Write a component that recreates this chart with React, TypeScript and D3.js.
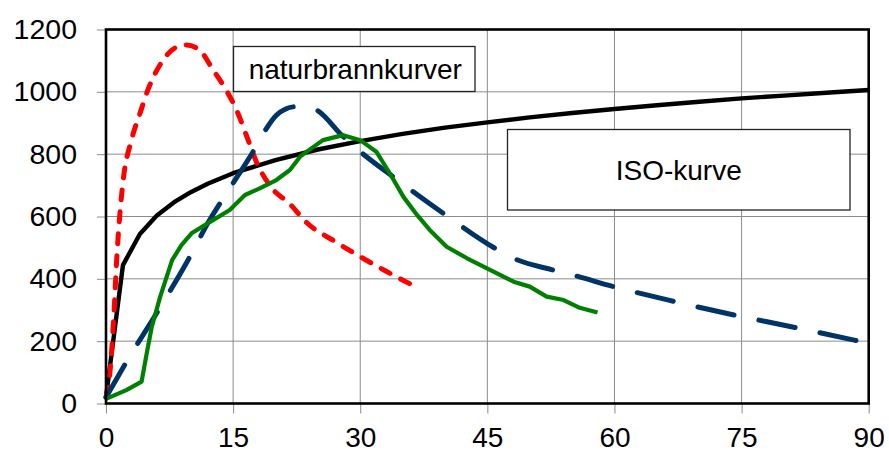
import { useEffect, useRef } from 'react';
import * as d3 from 'd3';

const width = 889;
const height = 453;
// plot frame in px
const [left, right, top, bottom] = [106, 868.7, 29.5, 403.5];

const xTicks = [0, 15, 30, 45, 60, 75, 90];
const yTicks = [0, 200, 400, 600, 800, 1000, 1200];

// ISO-kurve (minutes, degC)
const isoTime = [0, 2, 4, 6, 8, 10, 12, 15, 20, 25, 30, 35, 40, 45, 50, 55, 60, 65, 70, 75, 80, 85, 90];
const isoTemp = [20, 444, 544, 603, 645, 678, 705, 739, 781, 815, 842, 865, 885, 902, 918, 932, 945, 957, 968, 979, 988, 997, 1006];

// naturbrannkurver
const redTime = [0, 0.5, 0.9, 1.3, 1.5, 2, 3, 4, 5, 6.7, 8.3, 9.5, 11, 12.6, 14.2, 15.4, 16.6, 17.8, 19.4, 21.7, 23.7, 27, 30, 33, 36];
const redTemp = [20, 110, 270, 480, 560, 710, 845, 930, 1010, 1100, 1143, 1150, 1135, 1072, 1005, 942, 858, 772, 697, 640, 580, 520, 471, 425, 382];

const navyTime = [0, 3, 6.2, 9.9, 12, 14.9, 17.6, 18.8, 20.1, 21.2, 22.3, 24.5, 28, 30, 33.9, 39.8, 45.9, 48.1, 52.8, 55.1, 59.9, 67.1, 74.1, 81.3, 88.5];
const navyTemp = [20, 160, 300, 471, 578, 703, 819, 877, 925, 945, 952, 945, 856, 808, 727, 610, 498, 466, 428, 412, 375, 327, 284, 244, 202];

const greenTime = [0, 2.4, 4.2, 4.8, 5.4, 6.4, 7.8, 8.9, 10.1, 12, 14.6, 16.4, 18.2, 20.1, 21.7, 22.9, 23.7, 25.6, 28, 30, 31.9, 33.5, 35.1, 36.7, 38.2, 40.2, 42.6, 44.9, 48.1, 50, 52, 54, 55.9, 58];
const greenTemp = [15, 43, 70, 160, 246, 343, 460, 508, 546, 578, 621, 669, 691, 717, 749, 792, 808, 845, 861, 845, 808, 738, 663, 605, 557, 503, 466, 434, 391, 375, 343, 332, 307, 292];

const font = "'Liberation Sans', Arial, sans-serif";

export default function App() {
    const ref = useRef<SVGSVGElement>(null);

    useEffect(() => {
        document.body.style.margin = '0';
        const svg = d3.select(ref.current);
        svg.selectAll('*').remove();

        const x = d3.scaleLinear().domain([0, 90]).range([left, right]);
        const y = d3.scaleLinear().domain([0, 1200]).range([bottom, top]);

        // grid
        const grid = svg.append('g').attr('stroke', '#8c8c8c').attr('stroke-width', 1);
        grid.selectAll('line.v')
            .data(xTicks.slice(1, -1))
            .join('line')
            .attr('x1', (d) => x(d)).attr('x2', (d) => x(d))
            .attr('y1', top).attr('y2', bottom);
        grid.selectAll('line.h')
            .data(yTicks.slice(1, -1))
            .join('line')
            .attr('x1', left).attr('x2', right)
            .attr('y1', (d) => y(d)).attr('y2', (d) => y(d));

        // axes
        const xAxis = d3.axisBottom(x).tickValues(xTicks).tickSize(10).tickPadding(14).tickFormat(d3.format('d'));
        svg.append('g')
            .attr('transform', `translate(0,${bottom})`)
            .call(xAxis)
            .call((g) => g.select('.domain').remove())
            .call((g) => g.selectAll('.tick line').attr('stroke', '#8c8c8c'))
            .call((g) => g.selectAll('.tick text').attr('font-size', 28).attr('font-family', font).attr('fill', '#000'));

        const yAxis = d3.axisLeft(y).tickValues(yTicks).tickSize(9).tickPadding(20).tickFormat(d3.format('d'));
        svg.append('g')
            .attr('transform', `translate(${left},0)`)
            .call(yAxis)
            .call((g) => g.select('.domain').remove())
            .call((g) => g.selectAll('.tick line').attr('stroke', '#8c8c8c'))
            .call((g) => g.selectAll('.tick text').attr('font-size', 28.5).attr('font-family', font).attr('fill', '#000'));

        const line = d3
            .line<[number, number]>()
            .x((d) => x(d[0]))
            .y((d) => y(d[1]));

        const zip = (a: number[], b: number[]) => a.map((t, i) => [t, b[i]] as [number, number]);

        const plot = svg.append('g').attr('fill', 'none').attr('stroke-linejoin', 'round');

        plot.append('path')
            .attr('d', line(zip(isoTime, isoTemp)))
            .attr('stroke', '#000')
            .attr('stroke-width', 4.4);

        plot.append('path')
            .attr('d', line.curve(d3.curveMonotoneX)(zip(redTime, redTemp)))
            .attr('stroke', '#ff0000')
            .attr('stroke-width', 5)
            .attr('stroke-linecap', 'round')
            .attr('stroke-dasharray', '10 12');

        const navy = plot.append('path')
            .attr('d', line.curve(d3.curveMonotoneX)(zip(navyTime, navyTemp)))
            .attr('stroke', '#003366')
            .attr('stroke-width', 5)
            .attr('stroke-linecap', 'round');
        // stretch the long-dash period a little so the line ends on a dash
        const len = (navy.node() as SVGPathElement).getTotalLength();
        const n = Math.round((len - 37) / 61);
        const p = (len - 37) / n;
        navy.attr('stroke-dasharray', `${37} ${p - 37}`);

        plot.append('path')
            .attr('d', line.curve(d3.curveLinear)(zip(greenTime, greenTemp)))
            .attr('stroke', '#008000')
            .attr('stroke-width', 4.2);

        // frame
        svg.append('rect')
            .attr('x', left).attr('y', top)
            .attr('width', right - left).attr('height', bottom - top)
            .attr('fill', 'none').attr('stroke', '#000').attr('stroke-width', 2.6);

        // label boxes
        const boxes = [
            { label: 'naturbrannkurver', x0: 233.5, y0: 46.5, w: 241.5, h: 45 },
            { label: 'ISO-kurve', x0: 507.5, y0: 129.5, w: 342.5, h: 80.5 }
        ];
        const bg = svg.append('g').selectAll('g').data(boxes).join('g');
        bg.append('rect')
            .attr('x', (d) => d.x0).attr('y', (d) => d.y0)
            .attr('width', (d) => d.w).attr('height', (d) => d.h)
            .attr('fill', '#fff').attr('stroke', '#222').attr('stroke-width', 1.3);
        bg.append('text')
            .attr('x', (d) => d.x0 + d.w / 2 + (d.label === 'ISO-kurve' ? 0 : 1))
            .attr('y', (d) => d.y0 + d.h / 2)
            .attr('dy', '0.35em')
            .attr('text-anchor', 'middle')
            .attr('font-family', font)
            .attr('font-size', 28)
            .attr('fill', '#000')
            .text((d) => d.label);
    }, []);

    return (
        <svg
            ref={ref}
            width={width}
            height={height}
            viewBox={`0 0 ${width} ${height}`}
            style={{ display: 'block', background: '#fff' }}
        />
    );
}
